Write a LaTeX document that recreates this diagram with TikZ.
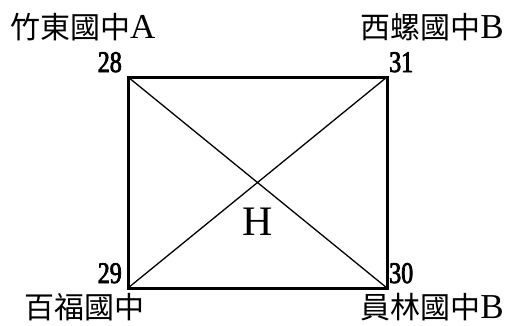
\documentclass[tikz,border=0pt]{standalone}
\usepackage{fontspec}
\setmainfont{Liberation Serif}
\newfontfamily\cjk{Noto Sans CJK TC}
\newfontfamily\numfont[FakeStretch=0.8,FakeBold=2.5]{Liberation Serif}
\begin{document}
\begin{tikzpicture}[x=1pt,y=-1pt,
  lbl/.style={inner sep=0pt,font=\fontsize{30}{30}\selectfont},
  num/.style={inner sep=0pt,font=\numfont\fontsize{30}{30}\selectfont},
  corner/.style={inner sep=0pt,minimum size=0pt}]
\useasboundingbox (0,0) rectangle (508,325);
\coordinate (tl) at (128,77);
\coordinate (tr) at (387,77);
\coordinate (bl) at (128,288);
\coordinate (br) at (387,288);
\draw[line width=1.3pt] (tl) -- (br);
\draw[line width=1.3pt] (bl) -- (tr);
\draw[line width=3pt] (tl) -- (tr) -- (br) -- (bl) -- cycle;
\node[lbl,anchor=west] (la) at (10,27) {{\cjk 竹東國中}{\fontsize{35}{35}\selectfont A}};
\node[lbl,anchor=east] (lb) at (504,27) {{\cjk 西螺國中}{\fontsize{35}{35}\selectfont B}};
\node[lbl,anchor=west] (lc) at (24,307) {\cjk 百福國中};
\node[lbl,anchor=east] (ld) at (504,307) {{\cjk 員林國中}{\fontsize{35}{35}\selectfont B}};
\node[num,anchor=base east] (n28) at (122,72) {28};
\node[num,anchor=base west] (n31) at (389,72) {31};
\node[num,anchor=base east] (n29) at (122,283) {29};
\node[num,anchor=base west] (n30) at (389,283) {30};
\node[inner sep=0pt,anchor=base,font=\fontsize{42}{42}\selectfont] (h) at (258,235) {H};
\end{tikzpicture}
\end{document}
